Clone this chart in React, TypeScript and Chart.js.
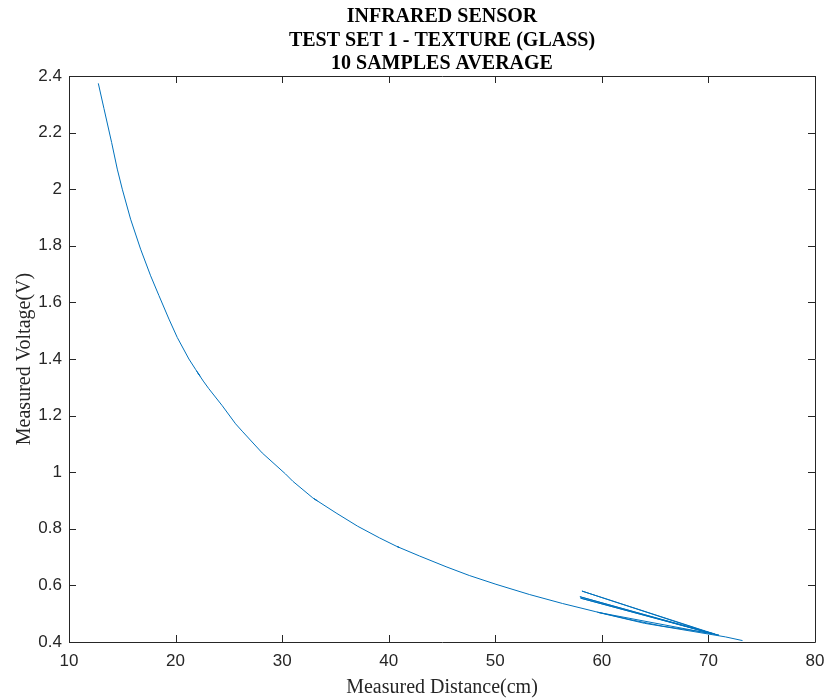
import React, { useEffect, useRef } from "react";
import { Chart, registerables } from "chart.js";

Chart.register(...registerables);

const titleLines = ["INFRARED SENSOR", "TEST SET 1 - TEXTURE (GLASS)", "10 SAMPLES AVERAGE"];
const xAxisLabel = "Measured Distance(cm)";
const yAxisLabel = "Measured Voltage(V)";

const xTicks = [10, 20, 30, 40, 50, 60, 70, 80];
const yTicks = [0.4, 0.6, 0.8, 1, 1.2, 1.4, 1.6, 1.8, 2, 2.2, 2.4];

const distanceCm = [
  12.75, 13.28, 14.0, 14.53, 15.0, 15.78, 16.72, 17.66, 18.44, 19.38, 20.16, 21.25,
  21.9, 22.3, 22.0, 22.6, 23.12, 24.38, 25.63, 26.25, 28.13, 30.31, 31.0,
  32.88, 33.3, 33.0, 35.06, 37.09, 39.13, 40.69, 41.0, 40.8, 42.88, 45.38, 47.56, 50.06, 53.19,
  56.31, 59.44, 62.56, 65.69, 68.81, 70.3, 58.13, 70.6, 57.94, 70.1, 58.0, 71.0,
  59.6, 64.0, 71.6, 73.2,
];
const voltageV = [
  2.374, 2.285, 2.165, 2.071, 2.0, 1.894, 1.788, 1.694, 1.624, 1.541, 1.476, 1.4,
  1.362, 1.339, 1.356, 1.322, 1.295, 1.235, 1.171, 1.145, 1.068, 0.994, 0.968,
  0.909, 0.899, 0.906, 0.856, 0.809, 0.768, 0.739, 0.734, 0.737, 0.704, 0.666, 0.635, 0.604, 0.568,
  0.536, 0.507, 0.48, 0.456, 0.439, 0.43, 0.58, 0.428, 0.56, 0.432, 0.555, 0.424,
  0.505, 0.466, 0.418, 0.405,
];

const AXIS_COLOR = "#262626";

const framePlugin = {
  id: "matlabFrame",
  afterDraw(chart: any) {
    const { ctx, chartArea } = chart;
    const xs = chart.scales.x;
    const ys = chart.scales.y;
    const L = chartArea.left, R = chartArea.right, T = chartArea.top, B = chartArea.bottom;
    ctx.save();
    ctx.strokeStyle = AXIS_COLOR;
    ctx.lineWidth = 1;
    ctx.beginPath();
    ctx.rect(Math.round(L) + 0.5, Math.round(T) + 0.5, Math.round(R - L), Math.round(B - T));
    const tl = 7;
    xTicks.forEach((v) => {
      const px = Math.round(xs.getPixelForValue(v)) + 0.5;
      ctx.moveTo(px, B);
      ctx.lineTo(px, B - tl);
      ctx.moveTo(px, T);
      ctx.lineTo(px, T + tl);
    });
    yTicks.forEach((v) => {
      const py = Math.round(ys.getPixelForValue(v)) + 0.5;
      ctx.moveTo(L, py);
      ctx.lineTo(L + tl, py);
      ctx.moveTo(R, py);
      ctx.lineTo(R - tl, py);
    });
    ctx.stroke();

    // titles
    const cx = (L + R) / 2;
    ctx.fillStyle = "#000";
    ctx.textAlign = "center";
    ctx.textBaseline = "alphabetic";
    ctx.font = "bold 20px 'Liberation Serif', 'Times New Roman', serif";
    const baselines = [22, 46, 69];
    titleLines.forEach((t, i) => ctx.fillText(t, cx, baselines[i]));

    // axis labels
    ctx.font = "20px 'Liberation Serif', 'Times New Roman', serif";
    ctx.fillStyle = AXIS_COLOR;
    ctx.fillText(xAxisLabel, cx, 693);
    ctx.save();
    ctx.translate(30, (T + B) / 2);
    ctx.rotate(-Math.PI / 2);
    ctx.fillText(yAxisLabel, 0, 0);
    ctx.restore();
    ctx.restore();
  },
};

export default function App() {
  const ref = useRef<HTMLCanvasElement | null>(null);
  useEffect(() => {
    if (!ref.current) return;
    const data = distanceCm.map((d, i) => ({ x: d, y: voltageV[i] }));
    const chart = new Chart(ref.current, {
      type: "scatter",
      data: {
        datasets: [
          {
            data,
            showLine: true,
            borderColor: "#0072BD",
            backgroundColor: "#0072BD",
            borderWidth: 1,
            pointRadius: 0,
            tension: 0,
          },
        ],
      },
      options: {
        responsive: false,
        animation: false,
        devicePixelRatio: 1,
        layout: { padding: { top: 76, right: 12, left: 0, bottom: 0 } },
        plugins: {
          legend: { display: false },
          tooltip: { enabled: false },
          title: { display: false },
        },
        scales: {
          x: {
            type: "linear",
            min: 10,
            max: 80,
            afterBuildTicks: (s: any) => {
              s.ticks = xTicks.map((v) => ({ value: v }));
            },
            afterFit: (s: any) => {
              s.height = 56;
              s.paddingLeft = 0;
              s.paddingRight = 0;
            },
            grid: { display: false, drawTicks: false },
            border: { display: false },
            ticks: {
              padding: 9,
              maxRotation: 0,
              autoSkip: false,
              color: AXIS_COLOR,
              font: { family: "'Liberation Sans', Arial, sans-serif", size: 17 },
              callback: (v: any) => String(v),
            },
          },
          y: {
            type: "linear",
            min: 0.4,
            max: 2.4,
            afterBuildTicks: (s: any) => {
              s.ticks = yTicks.map((v) => ({ value: v }));
            },
            afterFit: (s: any) => {
              s.width = 69;
              s.paddingTop = 0;
              s.paddingBottom = 0;
            },
            grid: { display: false, drawTicks: false },
            border: { display: false },
            ticks: {
              padding: 7,
              autoSkip: false,
              color: AXIS_COLOR,
              font: { family: "'Liberation Sans', Arial, sans-serif", size: 17 },
              callback: (v: any) => String(Math.round(Number(v) * 10) / 10),
            },
          },
        },
      },
      plugins: [framePlugin],
    });
    return () => chart.destroy();
  }, []);

  return (
    <div style={{ position: "fixed", left: 0, top: 0, width: 827, height: 698, background: "#fff" }}>
      <canvas ref={ref} width={827} height={698} style={{ display: "block", width: 827, height: 698 }} />
    </div>
  );
}
